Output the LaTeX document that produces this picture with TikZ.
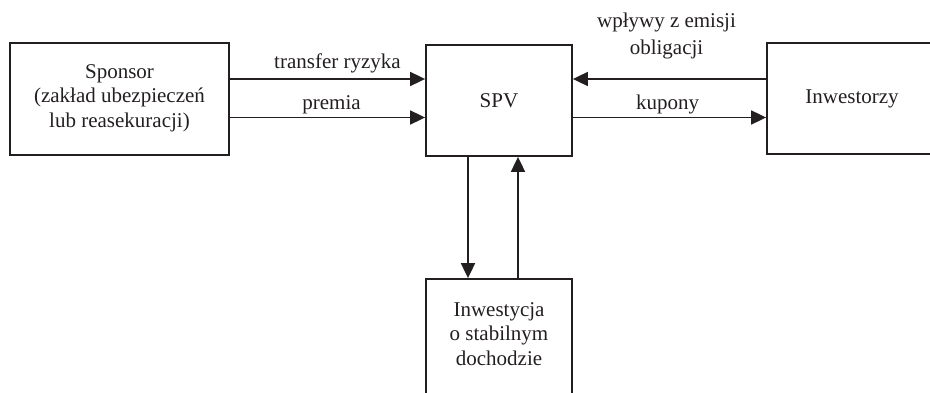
\documentclass[tikz,border=0pt]{standalone}
\usepackage{fontspec}
\setmainfont{Liberation Serif}
\usetikzlibrary{arrows.meta}
\definecolor{ink}{HTML}{231F20}
\tikzset{
  box/.style={draw=ink, line width=1.8pt, inner sep=0pt},
  txt/.style={text=ink, font=\fontsize{21}{24.5}\selectfont, align=center, inner sep=0pt},
  arr/.style={draw=ink, line width=1.8pt, -{Triangle[length=15pt,width=14pt]}},
  lbl/.style={text=ink, font=\fontsize{21}{26.5}\selectfont, align=center, inner sep=0pt, text depth=0pt, anchor=south},
}
\begin{document}
\begin{tikzpicture}[x=1pt,y=-1pt]
\useasboundingbox (0,0) rectangle (930,393);
\clip (0,0) rectangle (930,393);
% boxes
\node[box, minimum width=219pt, minimum height=112pt] (sp) at (119.5,99) {};
\node[txt] (sptxt) at (119.5,98) {Sponsor\\(zakład ubezpieczeń\\lub reasekuracji)};
\node[box, minimum width=146pt, minimum height=111pt] (spv) at (499,100.5) {};
\node[txt] (spvtxt) at (499,100.5) {SPV};
\node[box, minimum width=170pt, minimum height=111pt] (inw) at (852,98.5) {};
\node[txt] (inwtxt) at (852,99) {Inwestorzy};
\node[box, minimum width=146pt, minimum height=150pt] (invbox) at (499,354) {};
\node[txt] (invtxt) at (499,334) {Inwestycja\\o stabilnym\\dochodzie};
% helper coordinates
\coordinate (r1) at (0,79);
\coordinate (r2) at (0,117.5);
\coordinate (c1) at (468,0);
\coordinate (c2) at (518,0);
% connectors
\draw[arr] (sp.east |- r1) -- node[lbl, above=10pt, xshift=10pt] {transfer ryzyka} (spv.west |- r1);
\draw[arr] (sp.east |- r2) -- node[lbl, above=7pt, xshift=4pt] {premia} (spv.west |- r2);
\draw[arr] (inw.west |- r1) -- node[lbl, above=24pt, xshift=-3pt] {wpływy z emisji\\obligacji} (spv.east |- r1);
\draw[arr] (spv.east |- r2) -- node[lbl, above=7pt, xshift=-2pt] {kupony} (inw.west |- r2);
\draw[arr] (spv.south -| c1) -- (invbox.north -| c1);
\draw[arr] (invbox.north -| c2) -- (spv.south -| c2);
\end{tikzpicture}
\end{document}
